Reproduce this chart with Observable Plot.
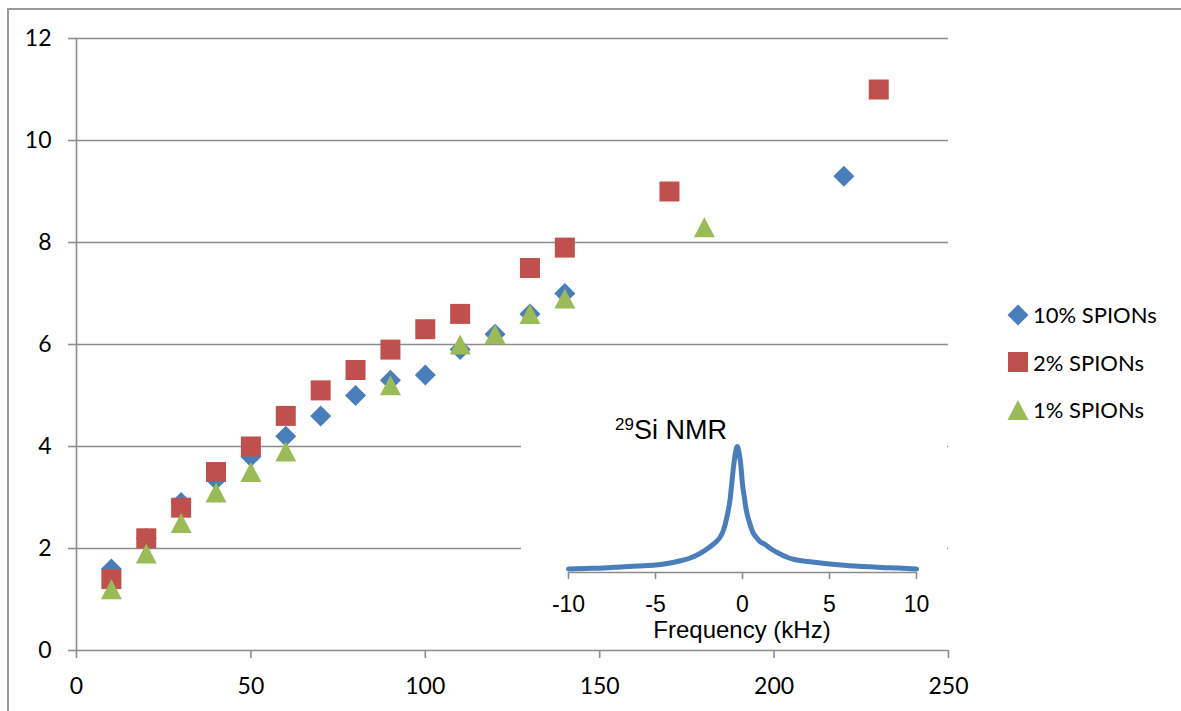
<!DOCTYPE html>
<html>
<head>
<meta charset="utf-8">
<script src="https://cdn.jsdelivr.net/npm/d3@7"></script>
<script src="https://cdn.jsdelivr.net/npm/@observablehq/plot@0.6"></script>
<style>
  html, body { margin: 0; padding: 0; background: #fff; }
  #wrap { position: relative; width: 1181px; height: 711px; overflow: hidden; background: #fff; }
  #frame { position: absolute; left: 7px; top: 8px; width: 1300px; height: 900px; border-top: 2px solid #9a9a9a; border-left: 2px solid #9a9a9a; box-sizing: border-box; }
  #main { position: absolute; left: 0; top: 0; }
  #inset { position: absolute; left: 521px; top: 405px; width: 426px; height: 243px; background: #fff; }
  #insetTitle { position: absolute; left: 615px; top: 417px; font-family: "Liberation Sans", Arial, sans-serif; font-size: 27px; line-height: 27px; color: #000; white-space: nowrap; }
  #insetTitle sup { font-size: 17px; vertical-align: 9px; line-height: 0; }
  #insetLabel { position: absolute; left: 542px; width: 400px; text-align: center; top: 622px; height: 16px; font-family: "Liberation Sans", Arial, sans-serif; font-size: 24px; line-height: 16px; color: #000; white-space: nowrap; }
  #legend { position: absolute; left: 1006px; top: 291px; font-family: Lato, "Open Sans", sans-serif; font-size: 22px; color: #000; }
  .lg { display: flex; align-items: center; height: 47.5px; }
  .lg svg { width: 24px; height: 24px; margin-right: 3px; }
</style>
</head>
<body>
<div id="wrap">
  <div id="frame"></div>
  <div id="main"></div>
  <div id="inset"></div>
  <div id="insetTitle"><sup>29</sup>Si NMR</div>
  <div id="insetLabel">Frequency (kHz)</div>
  <div id="legend"></div>
</div>
<script>
// ---------- data ----------
const seriesNames = ["10% SPIONs", "2% SPIONs", "1% SPIONs"];
const seriesColors = ["#4a7ebb", "#c0504d", "#9bbb59"];

const x10 = [10, 20, 30, 40, 50, 60, 70, 80, 90, 100, 110, 120, 130, 140, 220];
const y10 = [1.6, 2.2, 2.9, 3.35, 3.8, 4.2, 4.6, 5.0, 5.3, 5.4, 5.9, 6.2, 6.6, 7.0, 9.3];

const x2 = [10, 20, 30, 40, 50, 60, 70, 80, 90, 100, 110, 130, 140, 170, 230];
const y2 = [1.4, 2.2, 2.8, 3.5, 4.0, 4.6, 5.1, 5.5, 5.9, 6.3, 6.6, 7.5, 7.9, 9.0, 11.0];

const x1 = [10, 20, 30, 40, 50, 60, 90, 110, 120, 130, 140, 180];
const y1 = [1.2, 1.9, 2.5, 3.1, 3.5, 3.9, 5.2, 6.0, 6.2, 6.6, 6.9, 8.3];

const xTicks = [0, 50, 100, 150, 200, 250];
const yTicks = [0, 2, 4, 6, 8, 10, 12];

// 29Si NMR spectrum (frequency in kHz, intensity in arbitrary units)
const freq = [-10, -9, -8, -7, -6, -5, -4.5, -4, -3.5, -3, -2.5, -2, -1.7, -1.5, -1.3, -1.1, -0.9, -0.7, -0.6, -0.5, -0.4, -0.3, -0.2, -0.1, 0, 0.1, 0.2, 0.4, 0.6, 0.8, 1.0, 1.3, 1.6, 2.0, 2.6, 3.0, 4.0, 5.0, 6.0, 7.0, 8.0, 9.0, 10];
const intensity = [3.5, 4, 4.5, 5.5, 6.5, 7.5, 8.5, 10, 12, 14.5, 18.5, 24, 28, 31, 35, 42, 55, 75, 92, 108, 120, 126, 120, 108, 88, 76, 64, 50, 40, 35, 31, 28, 24, 20, 15, 13, 10.5, 8.5, 7, 6, 5, 4.5, 3.5];
const freqTicks = [-10, -5, 0, 5, 10];

// ---------- marker shapes ----------
const diamondSym = { draw(ctx) { const r = 10.5; ctx.moveTo(0, -r); ctx.lineTo(r, 0); ctx.lineTo(0, r); ctx.lineTo(-r, 0); ctx.closePath(); } };
const squareSym = { draw(ctx) { const h = 10; ctx.moveTo(-h, -h); ctx.lineTo(h, -h); ctx.lineTo(h, h); ctx.lineTo(-h, h); ctx.closePath(); } };
const triangleSym = { draw(ctx) { ctx.moveTo(0, -10); ctx.lineTo(10.5, 10); ctx.lineTo(-10.5, 10); ctx.closePath(); } };

const s10 = x10.map((x, i) => ({x, y: y10[i]}));
const s2 = x2.map((x, i) => ({x, y: y2[i]}));
const s1 = x1.map((x, i) => ({x, y: y1[i]}));
const spectrum = freq.map((f, i) => ({f, v: intensity[i]}));

const grid = "#8c8c8c";
const plain = d => String(d);

// ---------- main chart ----------
const main = Plot.plot({
  width: 1181,
  height: 711,
  marginLeft: 76,
  marginRight: 233,
  marginTop: 38,
  marginBottom: 61,
  style: { background: "transparent", fontFamily: "Lato, 'Open Sans', sans-serif", fontSize: "23px" },
  x: { domain: [0, 250] },
  y: { domain: [0, 12] },
  marks: [
    Plot.gridY(yTicks, { stroke: grid, strokeOpacity: 1, strokeWidth: 1.6 }),
    Plot.ruleX([0], { stroke: grid, strokeWidth: 1.6 }),
    Plot.axisY(yTicks, { tickSize: 8, tickPadding: 17, stroke: grid, strokeWidth: 1.6, fill: "#000", label: null, fontSize: 23, tickFormat: plain }),
    Plot.axisX(xTicks, { tickSize: 8, tickPadding: 19, stroke: grid, strokeWidth: 1.6, fill: "#000", label: null, fontSize: 23, tickFormat: plain }),
    Plot.dot(s10, { x: "x", y: "y", symbol: diamondSym, fill: seriesColors[0], stroke: "none", r: 10 }),
    Plot.dot(s2, { x: "x", y: "y", symbol: squareSym, fill: seriesColors[1], stroke: "none", r: 10 }),
    Plot.dot(s1, { x: "x", y: "y", symbol: triangleSym, fill: seriesColors[2], stroke: "none", r: 10 })
  ]
});
document.getElementById("main").appendChild(main);

// ---------- inset ----------
const inset = Plot.plot({
  width: 426,
  height: 243,
  marginLeft: 47,
  marginRight: 31,
  marginTop: 0,
  marginBottom: 76,
  style: { background: "transparent", fontFamily: "'Liberation Sans', Arial, sans-serif", fontSize: "23px" },
  x: { domain: [-10, 10] },
  y: { domain: [0, 167], axis: null },
  marks: [
    Plot.ruleY([0], { stroke: grid, strokeWidth: 1.6 }),
    Plot.axisX(freqTicks, { tickSize: 7, tickPadding: 16, stroke: grid, strokeWidth: 1.6, fill: "#000", label: null, fontSize: 23, tickFormat: plain }),
    Plot.line(spectrum, { x: "f", y: "v", stroke: "#4a7ebb", strokeWidth: 5, curve: "monotone-x", strokeLinecap: "round", strokeLinejoin: "round" })
  ]
});
document.getElementById("inset").appendChild(inset);

// ---------- legend ----------
const legend = document.getElementById("legend");
const shapePaths = [
  "M12,1.5L22.5,12L12,22.5L1.5,12Z",
  "M2,2H22V22H2Z",
  "M12,2L22.5,22H1.5Z"
];
seriesNames.forEach((name, i) => {
  const row = document.createElement("div");
  row.className = "lg";
  row.innerHTML = `<svg viewBox="0 0 24 24"><path d="${shapePaths[i]}" fill="${seriesColors[i]}"/></svg><span>${name}</span>`;
  legend.appendChild(row);
});
</script>
</body>
</html>
